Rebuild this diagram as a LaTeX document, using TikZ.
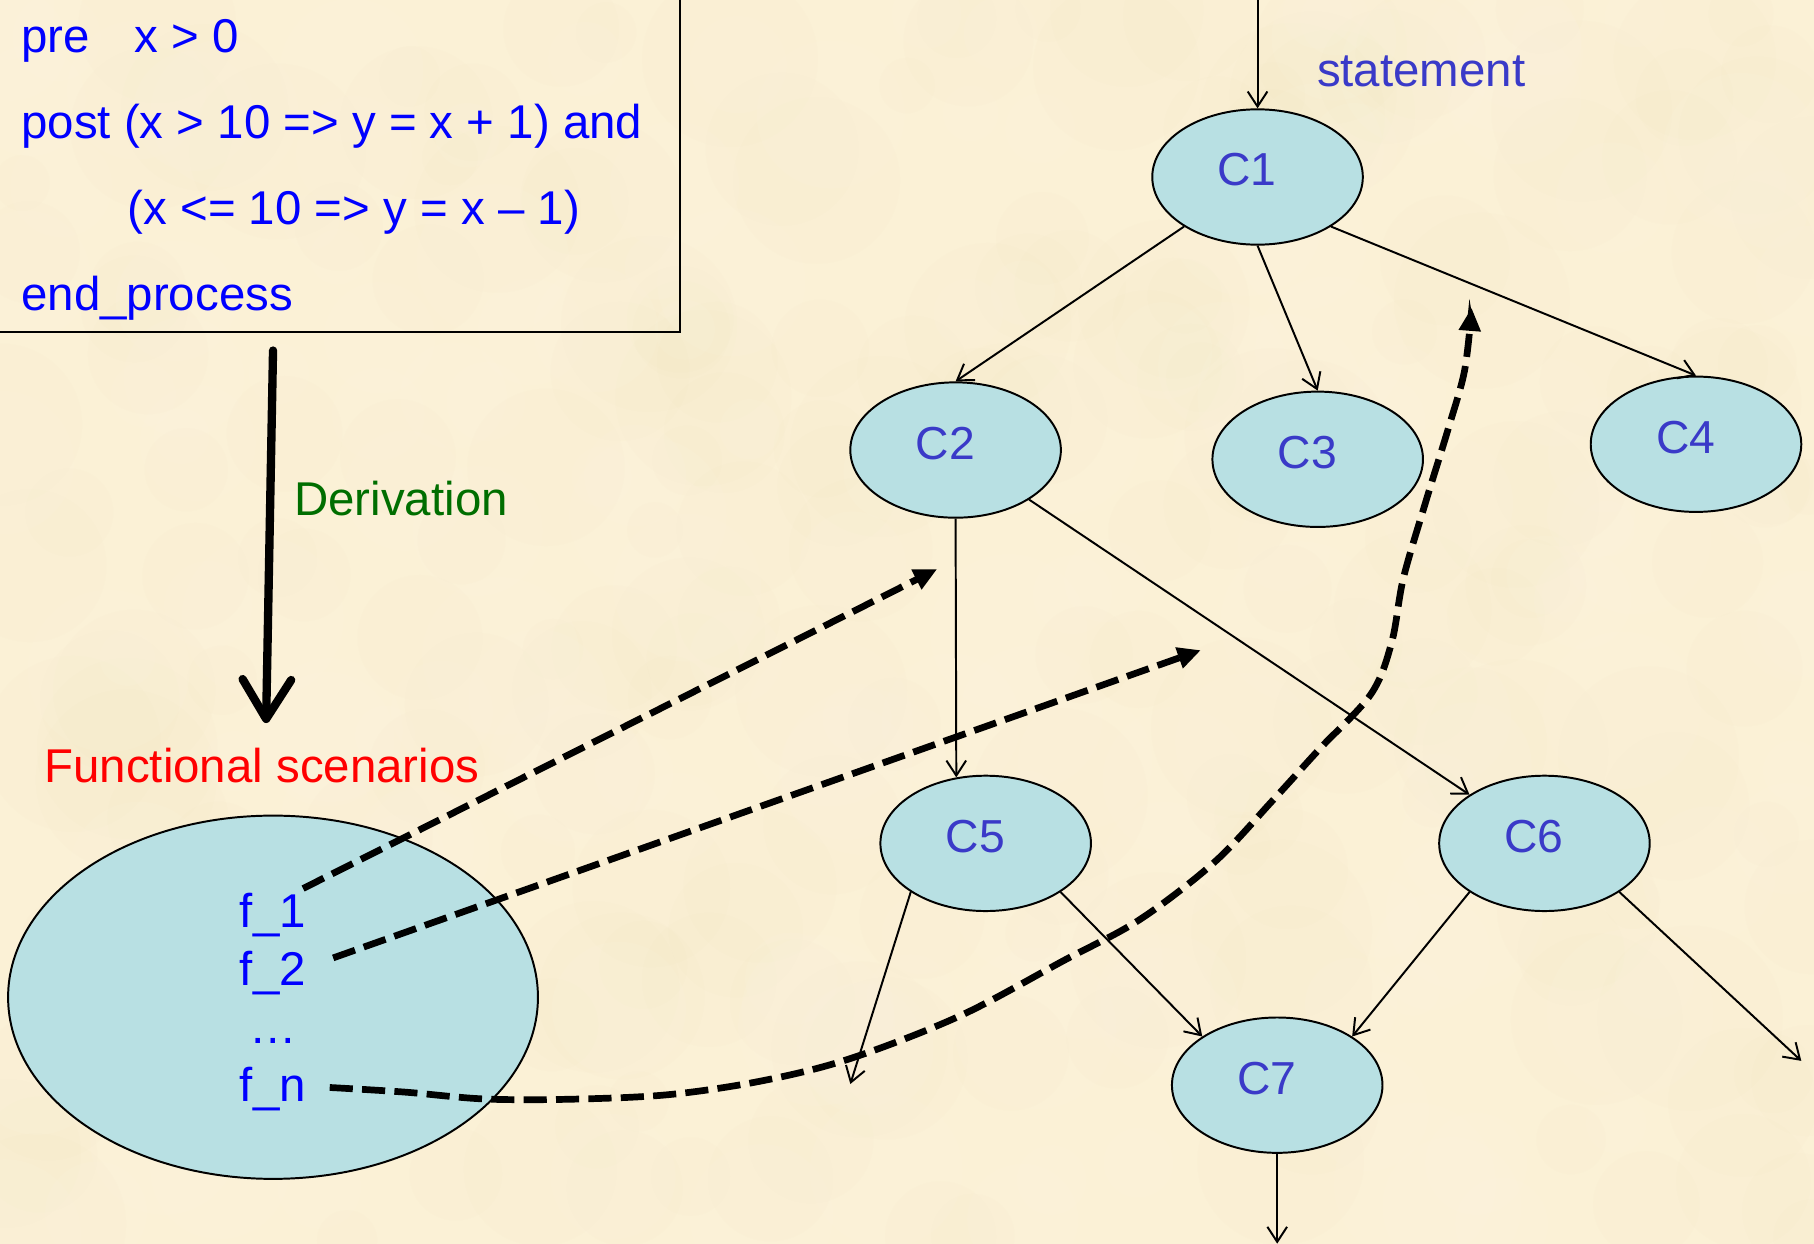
\documentclass[tikz,border=0pt]{standalone}
\usepackage{fontspec}
\setmainfont{Liberation Sans}
\usetikzlibrary{arrows.meta,shapes.geometric}
\definecolor{paper}{RGB}{251,241,214}
\definecolor{paperdark}{RGB}{236,220,178}
\definecolor{paperlight}{RGB}{255,250,236}
\definecolor{cellfill}{RGB}{184,224,227}
\definecolor{codeblue}{RGB}{0,0,255}
\definecolor{labelblue}{RGB}{58,58,200}
\definecolor{derivgreen}{RGB}{0,110,0}
\definecolor{scenred}{RGB}{255,0,0}
\begin{document}
\begin{tikzpicture}[x=0.5pt,y=-0.5pt,
  txt/.style={inner sep=0pt, font=\fontsize{20.5}{24}\selectfont},
  code/.style={txt, text=codeblue, anchor=base west},
  cell/.style={ellipse, draw=black, line width=0.85pt, fill=cellfill,
    minimum width=91pt, minimum height=58.5pt, inner sep=0pt},
  clabel/.style={inner sep=0pt, font=\fontsize{20}{24}\selectfont, text=labelblue},
  flow/.style={line width=0.85pt, -{Straight Barb[length=6.5pt,width=8.5pt]}},
  trace/.style={line width=2.9pt, dash pattern=on 10pt off 4pt,
    -{Triangle[length=10pt,width=9pt]}},
  derive/.style={line width=3.6pt, line cap=round,
    -{Straight Barb[length=17pt,width=21pt,line cap=round,line join=round]}}]

% paper background with a faint mottled grain
\fill[paper] (0,0) rectangle (1568,1075);
\begin{scope}
  \clip (0,0) rectangle (1568,1075);
  \pgfmathsetseed{12}
  \foreach \i in {1,...,220}{
    \pgfmathsetmacro{\px}{random(0,1568)}
    \pgfmathsetmacro{\py}{random(0,1075)}
    \pgfmathsetmacro{\pr}{random(12,40)}
    \fill[paperdark, opacity=0.05] (\px,\py) circle[radius=\pr pt];
  }
  \foreach \i in {1,...,180}{
    \pgfmathsetmacro{\px}{random(0,1568)}
    \pgfmathsetmacro{\py}{random(0,1075)}
    \pgfmathsetmacro{\pr}{random(12,36)}
    \fill[paperlight, opacity=0.08] (\px,\py) circle[radius=\pr pt];
  }
\end{scope}
\useasboundingbox (0,0) rectangle (1568,1075);

% specification box
\node[draw=black, line width=0.9pt, minimum width=300pt, minimum height=150pt,
  anchor=south east, inner sep=0pt] (spec) at (589,288) {};
\node[code] (pre) at (18,45) {pre\hspace{0.95em}x > 0};
\node[code] (post) at (18,120) {post (x > 10 => y = x + 1) and};
\node[code] (post2) at (110,194) {(x <= 10 => y = x \textendash{} 1)};
\node[code] (endp) at (18,268) {end\_process};

% derivation
\coordinate (dtop) at (236,303);
\coordinate (dbot) at (230,625);
\draw[derive] (dtop) -- (dbot);
\node[txt, text=derivgreen, anchor=base west] (deriv) at (254,446) {Derivation};
\node[txt, text=scenred, anchor=base west] (fsc) at (38,676) {Functional scenarios};

% scenario set
\node[ellipse, draw=black, line width=0.85pt, fill=cellfill,
  minimum width=229pt, minimum height=157pt, inner sep=0pt] (set) at (236,862) {};
\node[code] (f1) at (207,802) {f\_1};
\node[code] (f2) at (207,852) {f\_2};
\node[code] (fd) at (215,902) {\dots};
\node[code] (fn) at (207,952) {f\_n};

% statement tree
\node[cell] (c1) at (1087,153) {};
\node[cell] (c2) at (826,389) {};
\node[cell] (c3) at (1139,397) {};
\node[cell] (c4) at (1466,384) {};
\node[cell] (c5) at (852,729) {};
\node[cell] (c6) at (1335,729) {};
\node[cell] (c7) at (1104,938) {};
\node[clabel] at (1078,147) {C1};
\node[clabel] at (817,383) {C2};
\node[clabel] at (1130,391) {C3};
\node[clabel] at (1457,378) {C4};
\node[clabel] at (843,723) {C5};
\node[clabel] at (1326,723) {C6};
\node[clabel] at (1095,932) {C7};
\node[txt, text=labelblue, anchor=base west] (stmt) at (1138,75) {statement};

\coordinate (cin) at (1087,0);
\coordinate (c5out) at (735,937);
\coordinate (c6out) at (1557,917);
\coordinate (c7out) at (1104,1075);

\draw[flow] (cin) -- (c1.north);
\draw[flow] (c1.214) -- (c2.north);
\draw[flow] (c1.south) -- (c3.north);
\draw[flow] (c1.-34) -- (c4.north);
\draw[flow] (c2.south) -- (c5.114);
\draw[flow] (c2.-34) -- (c6.147);
\draw[flow] (c5.213) -- (c5out);
\draw[flow] (c5.-33) -- (c7.147);
\draw[flow] (c6.213) -- (c7.33);
\draw[flow] (c6.-33) -- (c6out);
\draw[flow] (c7.south) -- (c7out);

% traces from scenarios to statements
\coordinate (t1s) at (262,768);
\coordinate (t1e) at (810,492);
\coordinate (t2s) at (288,828);
\coordinate (t2e) at (1038,562);
\draw[trace] (t1s) -- (t1e);
\draw[trace] (t2s) -- (t2e);
\draw[trace] plot[smooth, tension=0.55] coordinates {
  (285,940) (350,944) (420,950) (500,950) (580,946) (660,934) (735,915)
  (830,878) (920,830) (985,795) (1050,745) (1100,692) (1140,648) (1185,600)
  (1203,555) (1213,500) (1232,435) (1252,370) (1266,320) (1272,266)};
\end{tikzpicture}
\end{document}
